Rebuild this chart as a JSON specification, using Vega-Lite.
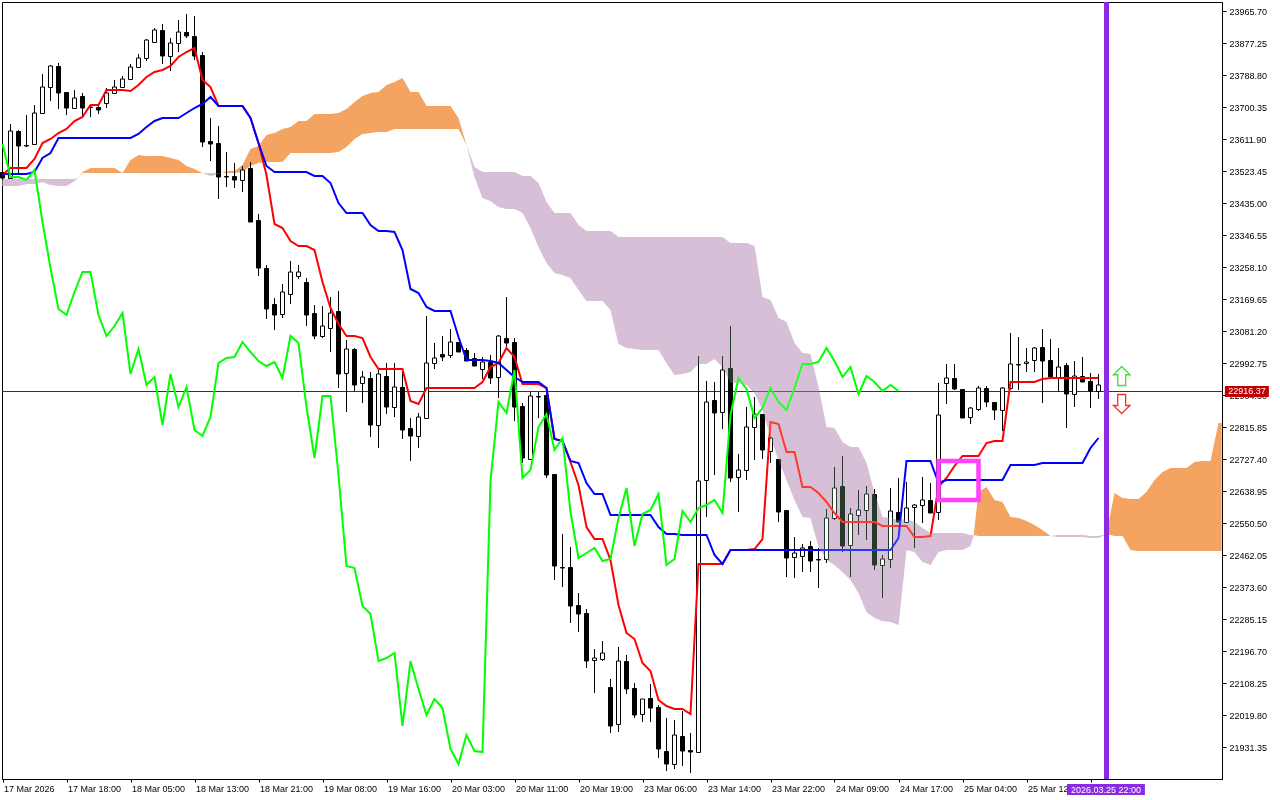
{"$schema":"https://vega.github.io/schema/vega-lite/v6.json","width":1220,"height":777,"autosize":{"type":"none"},"padding":{"left":2,"top":2,"right":58,"bottom":21},"background":"white","config":{"axis":{"title":null},"view":{"stroke":"#000000","strokeWidth":1}},
"datasets":{"bars":[
{"i":0,"o":23520,"h":23526,"l":23498,"c":23504,"t":23512,"k":23515,"g":23598},
{"i":1,"o":23504,"h":23653,"l":23501,"c":23634,"t":23532,"k":23515,"g":23507},
{"i":2,"o":23634,"h":23637,"l":23512,"c":23592,"t":23532,"k":23515,"g":23507},
{"i":3,"o":23594,"h":23678,"l":23590,"c":23592,"t":23532,"k":23515,"g":23498},
{"i":4,"o":23597,"h":23706,"l":23595,"c":23684,"t":23556,"k":23520,"g":23526},
{"i":5,"o":23684,"h":23791,"l":23681,"c":23756,"t":23601,"k":23559,"g":23382},
{"i":6,"o":23756,"h":23816,"l":23717,"c":23814,"t":23612,"k":23573,"g":23255},
{"i":7,"o":23814,"h":23822,"l":23695,"c":23739,"t":23628,"k":23615,"g":23142},
{"i":8,"o":23742,"h":23742,"l":23678,"c":23698,"t":23639,"k":23615,"g":23125},
{"i":9,"o":23698,"h":23747,"l":23698,"c":23725,"t":23662,"k":23615,"g":23189},
{"i":10,"o":23731,"h":23739,"l":23670,"c":23698,"t":23673,"k":23615,"g":23244},
{"i":11,"o":23699,"h":23703,"l":23673,"c":23700,"t":23706,"k":23615,"g":23244},
{"i":12,"o":23700,"h":23709,"l":23681,"c":23692,"t":23706,"k":23615,"g":23125},
{"i":13,"o":23711,"h":23753,"l":23698,"c":23739,"t":23747,"k":23615,"g":23067},
{"i":14,"o":23739,"h":23775,"l":23739,"c":23756,"t":23747,"k":23615,"g":23095},
{"i":15,"o":23756,"h":23786,"l":23753,"c":23778,"t":23747,"k":23615,"g":23131},
{"i":16,"o":23778,"h":23819,"l":23778,"c":23811,"t":23745,"k":23615,"g":22962},
{"i":17,"o":23811,"h":23847,"l":23811,"c":23836,"t":23761,"k":23626,"g":23031},
{"i":18,"o":23836,"h":23888,"l":23827,"c":23885,"t":23783,"k":23645,"g":22932},
{"i":19,"o":23880,"h":23919,"l":23880,"c":23913,"t":23797,"k":23662,"g":22954},
{"i":20,"o":23913,"h":23930,"l":23819,"c":23841,"t":23803,"k":23670,"g":22821},
{"i":21,"o":23841,"h":23891,"l":23800,"c":23877,"t":23814,"k":23670,"g":22962},
{"i":22,"o":23877,"h":23941,"l":23852,"c":23908,"t":23838,"k":23670,"g":22871},
{"i":23,"o":23908,"h":23957,"l":23891,"c":23897,"t":23852,"k":23684,"g":22926},
{"i":24,"o":23897,"h":23952,"l":23830,"c":23841,"t":23863,"k":23698,"g":22807},
{"i":25,"o":23844,"h":23852,"l":23590,"c":23604,"t":23775,"k":23709,"g":22791},
{"i":26,"o":23606,"h":23670,"l":23551,"c":23598,"t":23756,"k":23728,"g":22844},
{"i":27,"o":23601,"h":23648,"l":23446,"c":23507,"t":23703,"k":23703,"g":22993},
{"i":28,"o":23510,"h":23576,"l":23479,"c":23507,"t":23703,"k":23703,"g":23007},
{"i":29,"o":23510,"h":23545,"l":23476,"c":23498,"t":23703,"k":23703,"g":23009},
{"i":30,"o":23498,"h":23537,"l":23465,"c":23526,"t":23703,"k":23703,"g":23051},
{"i":31,"o":23532,"h":23548,"l":23382,"c":23382,"t":23670,"k":23670,"g":23023},
{"i":32,"o":23388,"h":23404,"l":23233,"c":23255,"t":23601,"k":23601,"g":22998},
{"i":33,"o":23255,"h":23263,"l":23114,"c":23142,"t":23512,"k":23537,"g":22984},
{"i":34,"o":23156,"h":23172,"l":23084,"c":23125,"t":23377,"k":23520,"g":22995},
{"i":35,"o":23128,"h":23211,"l":23117,"c":23189,"t":23366,"k":23520,"g":22951},
{"i":36,"o":23183,"h":23275,"l":23156,"c":23244,"t":23330,"k":23520,"g":23067},
{"i":37,"o":23233,"h":23263,"l":23225,"c":23244,"t":23316,"k":23520,"g":23048},
{"i":38,"o":23217,"h":23228,"l":23095,"c":23125,"t":23316,"k":23520,"g":22871},
{"i":39,"o":23131,"h":23153,"l":23059,"c":23067,"t":23305,"k":23510,"g":22730},
{"i":40,"o":23067,"h":23150,"l":23062,"c":23095,"t":23217,"k":23510,"g":22901},
{"i":41,"o":23089,"h":23175,"l":23023,"c":23131,"t":23145,"k":23490,"g":22901},
{"i":42,"o":23136,"h":23192,"l":22923,"c":22962,"t":23100,"k":23435,"g":22683},
{"i":43,"o":22965,"h":23056,"l":22857,"c":23031,"t":23067,"k":23407,"g":22432},
{"i":44,"o":23031,"h":23034,"l":22915,"c":22932,"t":23067,"k":23407,"g":22426},
{"i":45,"o":22937,"h":22971,"l":22882,"c":22954,"t":23062,"k":23407,"g":22321},
{"i":46,"o":22951,"h":22968,"l":22788,"c":22821,"t":23009,"k":23374,"g":22299},
{"i":47,"o":22821,"h":22979,"l":22758,"c":22962,"t":22976,"k":23358,"g":22169},
{"i":48,"o":22957,"h":22993,"l":22852,"c":22871,"t":22976,"k":23358,"g":22177},
{"i":49,"o":22871,"h":22993,"l":22844,"c":22926,"t":22976,"k":23355,"g":22191},
{"i":50,"o":22926,"h":22968,"l":22783,"c":22807,"t":22976,"k":23305,"g":21989},
{"i":51,"o":22813,"h":22841,"l":22722,"c":22791,"t":22888,"k":23197,"g":22169},
{"i":52,"o":22791,"h":22855,"l":22758,"c":22844,"t":22879,"k":23186,"g":22092},
{"i":53,"o":22841,"h":23123,"l":22841,"c":22993,"t":22923,"k":23147,"g":22020},
{"i":54,"o":22993,"h":23048,"l":22976,"c":23007,"t":22923,"k":23136,"g":22064},
{"i":55,"o":23018,"h":23067,"l":22998,"c":23009,"t":22923,"k":23136,"g":22039},
{"i":56,"o":23015,"h":23087,"l":23007,"c":23051,"t":22923,"k":23136,"g":21926},
{"i":57,"o":23051,"h":23051,"l":23023,"c":23023,"t":22923,"k":23065,"g":21884},
{"i":58,"o":23029,"h":23034,"l":22998,"c":22998,"t":22923,"k":23001,"g":21964},
{"i":59,"o":23007,"h":23020,"l":22984,"c":22984,"t":22923,"k":23001,"g":21920},
{"i":60,"o":22976,"h":23009,"l":22948,"c":22995,"t":22940,"k":23001,"g":21917},
{"i":61,"o":22995,"h":23015,"l":22935,"c":22951,"t":22982,"k":22998,"g":22667},
{"i":62,"o":22954,"h":23070,"l":22896,"c":23067,"t":22993,"k":22993,"g":22885},
{"i":63,"o":23062,"h":23175,"l":23037,"c":23048,"t":23034,"k":22973,"g":22854},
{"i":64,"o":23051,"h":23062,"l":22832,"c":22871,"t":23009,"k":22954,"g":22973},
{"i":65,"o":22874,"h":22882,"l":22716,"c":22730,"t":22935,"k":22940,"g":22675},
{"i":66,"o":22727,"h":22913,"l":22725,"c":22901,"t":22935,"k":22940,"g":22697},
{"i":67,"o":22901,"h":22913,"l":22841,"c":22899,"t":22935,"k":22940,"g":22816},
{"i":68,"o":22904,"h":22918,"l":22675,"c":22683,"t":22923,"k":22923,"g":22852},
{"i":69,"o":22686,"h":22686,"l":22393,"c":22432,"t":22783,"k":22783,"g":22752},
{"i":70,"o":22428,"h":22520,"l":22374,"c":22426,"t":22777,"k":22777,"g":22785},
{"i":71,"o":22429,"h":22484,"l":22274,"c":22321,"t":22719,"k":22722,"g":22581},
{"i":72,"o":22324,"h":22357,"l":22249,"c":22299,"t":22656,"k":22716,"g":22454},
{"i":73,"o":22302,"h":22313,"l":22150,"c":22169,"t":22539,"k":22661,"g":22468},
{"i":74,"o":22172,"h":22202,"l":22081,"c":22177,"t":22506,"k":22631,"g":22482},
{"i":75,"o":22174,"h":22224,"l":22169,"c":22191,"t":22506,"k":22631,"g":22446},
{"i":76,"o":22097,"h":22119,"l":21970,"c":21989,"t":22448,"k":22573,"g":22451},
{"i":77,"o":21995,"h":22208,"l":21973,"c":22169,"t":22324,"k":22573,"g":22564},
{"i":78,"o":22169,"h":22186,"l":22078,"c":22092,"t":22246,"k":22573,"g":22647},
{"i":79,"o":22094,"h":22108,"l":22011,"c":22020,"t":22230,"k":22573,"g":22487},
{"i":80,"o":22023,"h":22064,"l":22000,"c":22064,"t":22164,"k":22573,"g":22575},
{"i":81,"o":22067,"h":22105,"l":22000,"c":22039,"t":22141,"k":22573,"g":22586},
{"i":82,"o":22042,"h":22047,"l":21901,"c":21926,"t":22061,"k":22539,"g":22631},
{"i":83,"o":21920,"h":22011,"l":21865,"c":21884,"t":22045,"k":22520,"g":22434},
{"i":84,"o":21884,"h":22006,"l":21870,"c":21964,"t":22036,"k":22520,"g":22451},
{"i":85,"o":21962,"h":22031,"l":21879,"c":21920,"t":22036,"k":22517,"g":22584},
{"i":86,"o":21923,"h":21970,"l":21859,"c":21917,"t":22023,"k":22517,"g":22553},
{"i":87,"o":21917,"h":23012,"l":21915,"c":22667,"t":22437,"k":22517,"g":22592},
{"i":88,"o":22669,"h":22943,"l":22567,"c":22885,"t":22437,"k":22517,"g":22600},
{"i":89,"o":22890,"h":22940,"l":22683,"c":22854,"t":22437,"k":22462,"g":22614},
{"i":90,"o":22857,"h":23012,"l":22810,"c":22973,"t":22437,"k":22437,"g":22578},
{"i":91,"o":22979,"h":23095,"l":22664,"c":22675,"t":22476,"k":22476,"g":22849},
{"i":92,"o":22678,"h":22741,"l":22581,"c":22697,"t":22476,"k":22476,"g":22951},
{"i":93,"o":22697,"h":22871,"l":22669,"c":22816,"t":22476,"k":22476,"g":22921},
{"i":94,"o":22816,"h":22899,"l":22725,"c":22852,"t":22479,"k":22476,"g":22841},
{"i":95,"o":22852,"h":22852,"l":22727,"c":22752,"t":22506,"k":22476,"g":22868},
{"i":96,"o":22749,"h":22788,"l":22716,"c":22785,"t":22830,"k":22476,"g":22923},
{"i":97,"o":22727,"h":22727,"l":22553,"c":22581,"t":22824,"k":22476,"g":22885},
{"i":98,"o":22586,"h":22586,"l":22401,"c":22454,"t":22747,"k":22476,"g":22863},
{"i":99,"o":22457,"h":22512,"l":22398,"c":22468,"t":22747,"k":22476,"g":22923},
{"i":100,"o":22459,"h":22492,"l":22415,"c":22482,"t":22650,"k":22476,"g":22990},
{"i":101,"o":22487,"h":22500,"l":22415,"c":22446,"t":22650,"k":22476,"g":22990},
{"i":102,"o":22451,"h":22482,"l":22371,"c":22448,"t":22633,"k":22476,"g":22995},
{"i":103,"o":22451,"h":22589,"l":22440,"c":22564,"t":22608,"k":22476,"g":23034},
{"i":104,"o":22564,"h":22705,"l":22559,"c":22647,"t":22578,"k":22476,"g":22998},
{"i":105,"o":22653,"h":22736,"l":22470,"c":22487,"t":22553,"k":22476,"g":22954},
{"i":106,"o":22490,"h":22592,"l":22401,"c":22575,"t":22553,"k":22476,"g":22982},
{"i":107,"o":22573,"h":22642,"l":22517,"c":22586,"t":22553,"k":22476,"g":22907},
{"i":108,"o":22586,"h":22653,"l":22503,"c":22631,"t":22553,"k":22476,"g":22957},
{"i":109,"o":22631,"h":22644,"l":22421,"c":22434,"t":22553,"k":22476,"g":22940},
{"i":110,"o":22434,"h":22462,"l":22343,"c":22451,"t":22542,"k":22476,"g":22915},
{"i":111,"o":22451,"h":22647,"l":22426,"c":22584,"t":22542,"k":22476,"g":22932},
{"i":112,"o":22581,"h":22675,"l":22553,"c":22553,"t":22542,"k":22509,"g":22916},
{"i":113,"o":22553,"h":22664,"l":22553,"c":22592,"t":22542,"k":22722},
{"i":114,"o":22595,"h":22603,"l":22482,"c":22600,"t":22512,"k":22722},
{"i":115,"o":22600,"h":22678,"l":22550,"c":22614,"t":22512,"k":22722},
{"i":116,"o":22614,"h":22661,"l":22578,"c":22578,"t":22514,"k":22722},
{"i":117,"o":22581,"h":22937,"l":22559,"c":22849,"t":22650,"k":22661},
{"i":118,"o":22937,"h":22990,"l":22879,"c":22951,"t":22675,"k":22669},
{"i":119,"o":22951,"h":22990,"l":22918,"c":22921,"t":22708,"k":22669},
{"i":120,"o":22921,"h":22921,"l":22841,"c":22841,"t":22736,"k":22669},
{"i":121,"o":22844,"h":22871,"l":22824,"c":22868,"t":22736,"k":22669},
{"i":122,"o":22866,"h":22929,"l":22860,"c":22923,"t":22736,"k":22669},
{"i":123,"o":22923,"h":22929,"l":22871,"c":22885,"t":22771,"k":22669},
{"i":124,"o":22885,"h":22885,"l":22835,"c":22863,"t":22777,"k":22669},
{"i":125,"o":22863,"h":22926,"l":22805,"c":22923,"t":22777,"k":22669},
{"i":126,"o":22923,"h":23076,"l":22918,"c":22990,"t":22940,"k":22711},
{"i":127,"o":22990,"h":23065,"l":22918,"c":22987,"t":22940,"k":22711},
{"i":128,"o":22993,"h":23034,"l":22968,"c":22995,"t":22940,"k":22711},
{"i":129,"o":23001,"h":23037,"l":22968,"c":23034,"t":22940,"k":22711},
{"i":130,"o":23037,"h":23087,"l":22882,"c":22998,"t":22949,"k":22716},
{"i":131,"o":23001,"h":23059,"l":22954,"c":22954,"t":22951,"k":22716},
{"i":132,"o":22954,"h":23034,"l":22912,"c":22982,"t":22951,"k":22716},
{"i":133,"o":22987,"h":22993,"l":22813,"c":22907,"t":22951,"k":22716},
{"i":134,"o":22907,"h":22998,"l":22871,"c":22957,"t":22951,"k":22716},
{"i":135,"o":22957,"h":23009,"l":22940,"c":22940,"t":22951,"k":22716},
{"i":136,"o":22943,"h":22965,"l":22868,"c":22915,"t":22951,"k":22758},
{"i":137,"o":22915,"h":22962,"l":22893,"c":22932,"t":22951,"k":22785}
],
"cloud":[
{"i":0,"a":23482,"b":23501},{"i":1,"a":23482,"b":23501},{"i":2,"a":23482,"b":23501},{"i":3,"a":23487,"b":23501},{"i":4,"a":23487,"b":23501},{"i":5,"a":23493,"b":23501},{"i":6,"a":23485,"b":23501},{"i":7,"a":23482,"b":23501},{"i":8,"a":23482,"b":23501},{"i":9,"a":23496,"b":23501},{"i":9.4,"a":23504,"b":23504},
{"i":10,"a":23520,"b":23518},{"i":11,"a":23532,"b":23518},{"i":12,"a":23532,"b":23518},{"i":13,"a":23532,"b":23518},{"i":14,"a":23532,"b":23518},{"i":15,"a":23518,"b":23518},{"i":16,"a":23554,"b":23518},{"i":17,"a":23568,"b":23518},{"i":18,"a":23565,"b":23518},{"i":19,"a":23565,"b":23518},{"i":20,"a":23565,"b":23518},{"i":21,"a":23559,"b":23518},{"i":22,"a":23554,"b":23518},{"i":23,"a":23537,"b":23518},{"i":24,"a":23529,"b":23518},{"i":25,"a":23518,"b":23518},
{"i":26,"a":23510,"b":23518},{"i":27,"a":23515,"b":23518},{"i":27.5,"a":23518,"b":23518},
{"i":28,"a":23523,"b":23518},{"i":29,"a":23523,"b":23518},{"i":30,"a":23540,"b":23520},{"i":31,"a":23584,"b":23537},{"i":32,"a":23592,"b":23545},{"i":33,"a":23623,"b":23548},{"i":34,"a":23628,"b":23548},{"i":35,"a":23639,"b":23548},{"i":36,"a":23645,"b":23573},{"i":37,"a":23662,"b":23573},{"i":38,"a":23662,"b":23573},{"i":39,"a":23681,"b":23573},{"i":40,"a":23681,"b":23573},{"i":41,"a":23681,"b":23573},{"i":42,"a":23684,"b":23576},{"i":43,"a":23695,"b":23590},{"i":44,"a":23714,"b":23612},{"i":45,"a":23731,"b":23626},{"i":46,"a":23739,"b":23628},{"i":47,"a":23742,"b":23631},{"i":48,"a":23761,"b":23631},{"i":49,"a":23769,"b":23639},{"i":50,"a":23780,"b":23639},{"i":51,"a":23742,"b":23639},{"i":52,"a":23742,"b":23639},{"i":53,"a":23703,"b":23639},{"i":54,"a":23703,"b":23639},{"i":55,"a":23703,"b":23639},{"i":56,"a":23703,"b":23639},{"i":57,"a":23670,"b":23639},{"i":58,"a":23595,"b":23595},
{"i":59,"a":23507,"b":23534},{"i":60,"a":23449,"b":23520},{"i":61,"a":23440,"b":23520},{"i":62,"a":23424,"b":23520},{"i":63,"a":23418,"b":23520},{"i":64,"a":23418,"b":23520},{"i":65,"a":23407,"b":23510},{"i":66,"a":23366,"b":23510},{"i":67,"a":23313,"b":23490},{"i":68,"a":23269,"b":23438},{"i":69,"a":23241,"b":23407},{"i":70,"a":23236,"b":23407},{"i":71,"a":23228,"b":23407},{"i":72,"a":23194,"b":23374},{"i":73,"a":23164,"b":23358},{"i":74,"a":23164,"b":23358},{"i":75,"a":23164,"b":23358},{"i":76,"a":23139,"b":23358},{"i":77,"a":23045,"b":23341},{"i":78,"a":23034,"b":23341},{"i":79,"a":23031,"b":23341},{"i":80,"a":23029,"b":23341},{"i":81,"a":23029,"b":23341},{"i":82,"a":23029,"b":23341},{"i":83,"a":22993,"b":23341},{"i":84,"a":22959,"b":23341},{"i":85,"a":22962,"b":23341},{"i":86,"a":22968,"b":23341},{"i":87,"a":22990,"b":23341},{"i":88,"a":22990,"b":23341},{"i":89,"a":23004,"b":23341},{"i":90,"a":22982,"b":23341},{"i":91,"a":22937,"b":23324},{"i":92,"a":22937,"b":23324},{"i":93,"a":22932,"b":23324},{"i":94,"a":22910,"b":23316},{"i":95,"a":22863,"b":23175},{"i":96,"a":22788,"b":23167},{"i":97,"a":22725,"b":23117},{"i":98,"a":22669,"b":23106},{"i":99,"a":22614,"b":23048},{"i":100,"a":22567,"b":23020},{"i":101,"a":22564,"b":23018},{"i":102,"a":22484,"b":22926},{"i":103,"a":22448,"b":22816},{"i":104,"a":22434,"b":22813},{"i":105,"a":22415,"b":22774},{"i":106,"a":22393,"b":22760},{"i":107,"a":22357,"b":22760},{"i":108,"a":22304,"b":22716},{"i":109,"a":22288,"b":22633},{"i":110,"a":22280,"b":22567},{"i":111,"a":22277,"b":22564},{"i":112,"a":22269,"b":22559},{"i":113,"a":22476,"b":22561},{"i":114,"a":22470,"b":22553},{"i":115,"a":22443,"b":22537},{"i":116,"a":22434,"b":22523},{"i":117,"a":22470,"b":22523},{"i":118,"a":22476,"b":22523},{"i":119,"a":22476,"b":22523},{"i":120,"a":22476,"b":22523},{"i":121,"a":22487,"b":22517},{"i":121.4,"a":22517,"b":22517},
{"i":122,"a":22636,"b":22515},{"i":123,"a":22650,"b":22515},{"i":124,"a":22614,"b":22515},{"i":125,"a":22608,"b":22515},{"i":126,"a":22567,"b":22515},{"i":127,"a":22564,"b":22515},{"i":128,"a":22556,"b":22515},{"i":129,"a":22545,"b":22515},{"i":130,"a":22531,"b":22515},{"i":131,"a":22515,"b":22515},
{"i":132,"a":22512,"b":22517},{"i":133,"a":22512,"b":22517},{"i":134,"a":22512,"b":22517},{"i":135,"a":22512,"b":22517},{"i":136,"a":22509,"b":22515},{"i":137,"a":22509,"b":22515},{"i":138,"a":22520,"b":22520},
{"i":139,"a":22633,"b":22515},{"i":140,"a":22620,"b":22515},{"i":141,"a":22617,"b":22476},{"i":142,"a":22617,"b":22473},{"i":143,"a":22636,"b":22473},{"i":144,"a":22669,"b":22473},{"i":145,"a":22691,"b":22473},{"i":146,"a":22702,"b":22473},{"i":147,"a":22702,"b":22473},{"i":148,"a":22702,"b":22473},{"i":149,"a":22719,"b":22473},{"i":150,"a":22722,"b":22473},{"i":151,"a":22722,"b":22473},{"i":152,"a":22827,"b":22473},{"i":152.4,"a":22827,"b":22473}
],
"box":[{"i1":117,"i2":122,"p1":22614,"p2":22722}],
"now":[{"i":138,"p":22916.37}],
"up":[{"i":139.9,"p":22958}],
"down":[{"i":139.9,"p":22878}],
"timeTag":[{"i1":133.06,"i2":142.8,"p1":21829,"p2":21798,"ti":137.94,"tp":21813,"label":"2026.03.25 22:00"}],
"priceTag":[{"i1":152.8,"i2":158.3,"p1":22929,"p2":22899,"ti":155.55,"tp":22914,"label":"22916.37"}]
},
"encoding":{"x":{"field":"i","type":"quantitative","scale":{"domain":[-0.0625,152.4375],"nice":false,"zero":false,"padding":0},"axis":{"values":[0,8,16,24,32,40,48,56,64,72,80,88,96,104,112,120,128,136],"labelExpr":"['17 Mar 2026','17 Mar 18:00','18 Mar 05:00','18 Mar 13:00','18 Mar 21:00','19 Mar 08:00','19 Mar 16:00','20 Mar 03:00','20 Mar 11:00','20 Mar 19:00','23 Mar 06:00','23 Mar 14:00','23 Mar 22:00','24 Mar 09:00','24 Mar 17:00','25 Mar 04:00','25 Mar 12:00',''][round(datum.value/8)]","labelAlign":"left","labelFont":"Liberation Sans","labelFontSize":9,"labelColor":"#000000","labelPadding":2,"labelOffset":1,"labelOverlap":false,"labelBound":false,"labelFlush":false,"tickCount":40,"tickSize":3,"tickColor":"#000000","domainColor":"#000000","grid":false}}},
"layer":[
{"data":{"name":"cloud"},"transform":[{"filter":"datum.a>=datum.b"}],"mark":{"type":"area","color":"#F4A460","interpolate":"linear"},"encoding":{"y":{"field":"a","type":"quantitative","scale":{"domain":[21842.8,23990.5],"nice":false,"zero":false,"round":true},"axis":{"orient":"right","values":[23965.70,23877.25,23788.80,23700.35,23611.90,23523.45,23435.00,23346.55,23258.10,23169.65,23081.20,22992.75,22904.30,22815.85,22727.40,22638.95,22550.50,22462.05,22373.60,22285.15,22196.70,22108.25,22019.80,21931.35],"format":".2f","labelFont":"Liberation Sans","labelFontSize":9,"labelColor":"#000000","labelPadding":3,"labelOverlap":false,"labelBound":false,"labelFlush":false,"tickCount":40,"tickSize":4,"tickColor":"#000000","domainColor":"#000000","grid":false}},"y2":{"field":"b"}}},
{"data":{"name":"cloud"},"transform":[{"filter":"datum.a<=datum.b"}],"mark":{"type":"area","color":"#D1ADD0","interpolate":"linear"},"encoding":{"y":{"field":"a","type":"quantitative"},"y2":{"field":"b"}}},
{"data":{"name":"now"},"mark":{"type":"rule","color":"#B00000","strokeWidth":1,"yOffset":0.5},"encoding":{"x":null,"y":{"field":"p","type":"quantitative"}}},
{"data":{"name":"bars"},"mark":{"type":"rule","color":"#000000","strokeWidth":1},"encoding":{"y":{"field":"l","type":"quantitative"},"y2":{"field":"h"}}},
{"data":{"name":"bars"},"mark":{"type":"bar","size":4,"stroke":"#000000","strokeWidth":1,"yOffset":0.5},"encoding":{"y":{"field":"o","type":"quantitative"},"y2":{"field":"c"},"fill":{"condition":{"test":"datum.c>=datum.o","value":"#FFFFFF"},"value":"#000000"}}},
{"data":{"name":"bars"},"mark":{"type":"line","color":"#FF0000","strokeWidth":2},"encoding":{"y":{"field":"t","type":"quantitative"}}},
{"data":{"name":"bars"},"mark":{"type":"line","color":"#0000FF","strokeWidth":2},"encoding":{"y":{"field":"k","type":"quantitative"}}},
{"data":{"name":"bars"},"mark":{"type":"line","color":"#00FF00","strokeWidth":2},"encoding":{"y":{"field":"g","type":"quantitative"}}},
{"data":{"name":"cloud"},"transform":[{"filter":"datum.a<=datum.b"}],"mark":{"type":"area","color":"#26392B","blend":"screen","interpolate":"linear"},"encoding":{"y":{"field":"a","type":"quantitative"},"y2":{"field":"b"}}},
{"data":{"name":"box"},"mark":{"type":"rect","fill":"transparent","stroke":"#FF40FF","strokeWidth":4.5},"encoding":{"x":{"field":"i1","type":"quantitative"},"x2":{"field":"i2"},"y":{"field":"p1","type":"quantitative"},"y2":{"field":"p2"}}},
{"data":{"name":"now"},"mark":{"type":"rule","color":"#8A2BE2","strokeWidth":5},"encoding":{"x":{"field":"i","type":"quantitative"}}},
{"data":{"name":"up"},"mark":{"type":"point","shape":"M0,-1L0.87,-0.13L0.42,-0.13L0.42,1L-0.42,1L-0.42,-0.13L-0.87,-0.13Z","size":361,"fill":"#FFFFFF","fillOpacity":1,"opacity":1,"stroke":"#3CE03C","strokeWidth":1.3},"encoding":{"y":{"field":"p","type":"quantitative"}}},
{"data":{"name":"down"},"mark":{"type":"point","shape":"M0,1L0.87,0.16L0.42,0.16L0.42,-1L-0.42,-1L-0.42,0.16L-0.87,0.16Z","size":361,"fill":"#FFFFFF","fillOpacity":1,"opacity":1,"stroke":"#F03030","strokeWidth":1.3},"encoding":{"y":{"field":"p","type":"quantitative"}}},
{"data":{"name":"timeTag"},"mark":{"type":"rect","color":"#8A2BE2"},"encoding":{"x":{"field":"i1","type":"quantitative"},"x2":{"field":"i2"},"y":{"field":"p1","type":"quantitative"},"y2":{"field":"p2"}}},
{"data":{"name":"timeTag"},"mark":{"type":"text","color":"#FFFFFF","font":"Liberation Sans","fontSize":9},"encoding":{"x":{"field":"ti","type":"quantitative"},"y":{"field":"tp","type":"quantitative"},"text":{"field":"label"}}},
{"data":{"name":"priceTag"},"mark":{"type":"rect","color":"#C00000"},"encoding":{"x":{"field":"i1","type":"quantitative"},"x2":{"field":"i2"},"y":{"field":"p1","type":"quantitative"},"y2":{"field":"p2"}}},
{"data":{"name":"priceTag"},"mark":{"type":"text","color":"#FFFFFF","font":"Liberation Sans","fontSize":9},"encoding":{"x":{"field":"ti","type":"quantitative"},"y":{"field":"tp","type":"quantitative"},"text":{"field":"label"}}}
]}
